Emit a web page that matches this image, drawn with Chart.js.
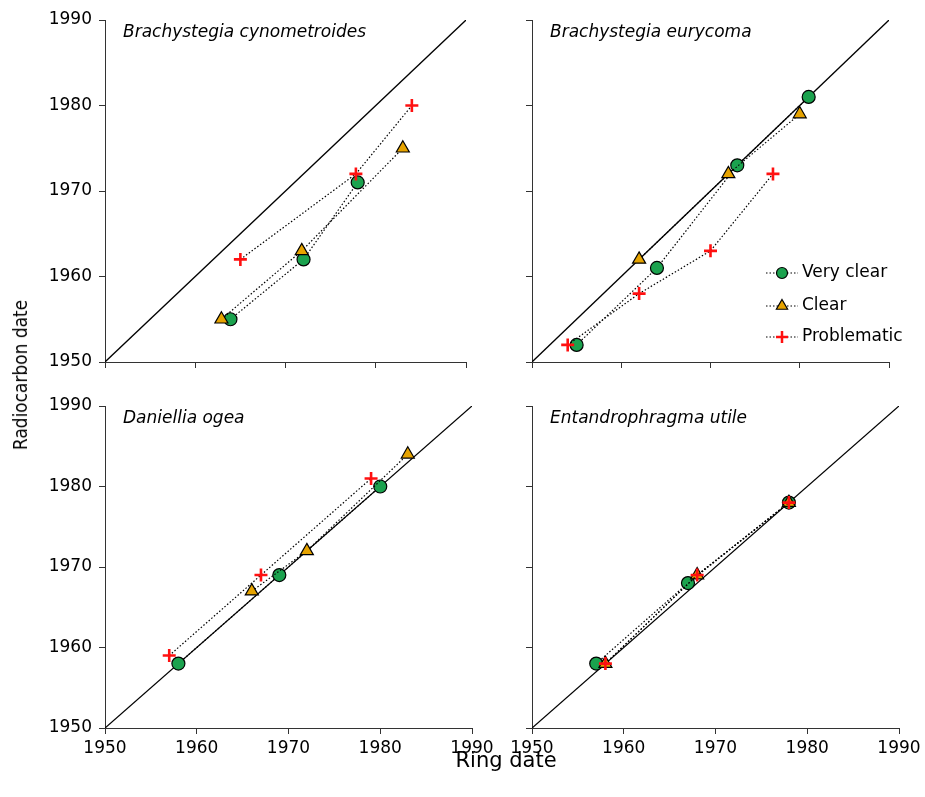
<!DOCTYPE html>
<html>
<head>
<meta charset="utf-8">
<script src="https://cdn.jsdelivr.net/npm/chart.js@4.4.0/dist/chart.umd.min.js"></script>
<style>
    body { margin: 0; background: #fff; }
    #quadro { position: relative; width: 925px; height: 797px; overflow: hidden; }
    canvas { position: absolute; }
    .tituloY { position: absolute; left: 20px; top: 375px; font: 20px 'DejaVu Sans'; white-space: nowrap;
        transform: translate(-50%, -50%) rotate(-90deg) scaleX(0.85); }
    .tituloX { position: absolute; left: 506px; top: 760px; font: 21px 'DejaVu Sans'; white-space: nowrap;
        transform: translate(-50%, -50%); }
</style>
</head>
<body>
<div id="quadro">
    <canvas id="painel1" width="500" height="385" style="left:0px; top:0px"></canvas>
    <canvas id="painel2" width="445" height="385" style="left:480px; top:0px"></canvas>
    <canvas id="painel3" width="500" height="412" style="left:0px; top:385px"></canvas>
    <canvas id="painel4" width="445" height="412" style="left:480px; top:385px"></canvas>
    <div class="tituloY">Radiocarbon date</div>
    <div class="tituloX">Ring date</div>
</div>
<script>
// dados: [ring date, radiocarbon date]
const nomesSeries = ['Very clear', 'Clear', 'Problematic'];
const nomesPaineis = ['Brachystegia cynometroides', 'Brachystegia eurycoma', 'Daniellia ogea', 'Entandrophragma utile'];
const ticksEixo = [1950, 1960, 1970, 1980, 1990];

const cynoMuitoClaro = [[1963.9, 1955], [1972, 1962], [1978, 1971]];
const cynoClaro = [[1962.9, 1955], [1971.8, 1963], [1983, 1975]];
const cynoProblema = [[1965, 1962], [1977.8, 1972], [1984, 1980]];

const euryMuitoClaro = [[1955, 1952], [1964, 1961], [1973, 1973], [1981, 1981]];
const euryClaro = [[1962, 1962], [1972, 1972], [1980, 1979]];
const euryProblema = [[1954, 1952], [1962, 1958], [1970, 1963], [1977, 1972]];

const daniMuitoClaro = [[1958, 1958], [1969, 1969], [1980, 1980]];
const daniClaro = [[1966, 1967], [1972, 1972], [1983, 1984]];
const daniProblema = [[1957, 1959], [1967, 1969], [1979, 1981]];

const entaMuitoClaro = [[1957, 1958], [1967, 1968], [1978, 1978]];
const entaClaro = [[1958, 1958], [1968, 1969], [1978, 1978]];
const entaProblema = [[1958, 1958], [1968, 1969], [1978, 1978]];

const corVerde = '#1ba24e';
const corLaranja = '#e6a300';
const corVermelho = '#ff1010';
const fonte = 'DejaVu Sans';

function serie(nome, pontos, estilo, cor, raio, ordem) {
    return {
        label: nome,
        data: pontos.map(p => ({ x: p[0], y: p[1] })),
        showLine: true,
        borderColor: '#000',
        borderWidth: 1.2,
        borderDash: [1.5, 2],
        pointStyle: estilo,
        pointRadius: raio,
        pointHoverRadius: raio,
        pointBackgroundColor: cor,
        pointBorderColor: estilo == 'cross' ? cor : '#000',
        pointBorderWidth: estilo == 'cross' ? 2.6 : 1.2,
        order: ordem
    };
}

// titulo da especie dentro da area do grafico
const pluginTitulo = {
    id: 'tituloEspecie',
    afterDraw(chart, args, opts) {
        const ctx = chart.ctx;
        const area = chart.chartArea;
        ctx.save();
        ctx.font = `italic 17px "${fonte}"`;
        ctx.fillStyle = '#000';
        ctx.textBaseline = 'middle';
        ctx.fillText(opts.texto, area.left + 18, area.top + 13);
        ctx.restore();
    }
};

// legenda desenhada à mão (painel 2)
const pluginLegenda = {
    id: 'legendaManual',
    afterDraw(chart, args, opts) {
        if (!opts.mostrar) return;
        const ctx = chart.ctx;
        const estilos = [
            { estilo: 'circle', cor: corVerde, raio: 5.5, borda: '#000', larg: 1.2 },
            { estilo: 'triangle', cor: corLaranja, raio: 6.5, borda: '#000', larg: 1.2 },
            { estilo: 'cross', cor: corVermelho, raio: 6, borda: corVermelho, larg: 2.5 }
        ];
        const ys = [273, 306, 337];
        ctx.save();
        for (let i = 0; i < nomesSeries.length; i++) {
            const y = ys[i];
            ctx.strokeStyle = '#000';
            ctx.lineWidth = 1.2;
            ctx.setLineDash([1.5, 2]);
            ctx.beginPath();
            ctx.moveTo(286, y);
            ctx.lineTo(318, y);
            ctx.stroke();
            ctx.setLineDash([]);
            const e = estilos[i];
            ctx.fillStyle = e.cor;
            ctx.strokeStyle = e.borda;
            ctx.lineWidth = e.larg;
            Chart.helpers.drawPoint(ctx, { pointStyle: e.estilo, radius: e.raio, rotation: 0, borderWidth: e.larg }, 302, y);
            ctx.fillStyle = '#000';
            ctx.font = `17px "${fonte}"`;
            ctx.textBaseline = 'middle';
            ctx.fillText(nomesSeries[i], 322, y);
        }
        ctx.restore();
    }
};

function criarPainel(idCanvas, nome, muitoClaro, claro, problema, cfg) {
    const diagonal = {
        data: [{ x: ticksEixo[0], y: ticksEixo[0] }, { x: ticksEixo[4], y: ticksEixo[4] }],
        showLine: true,
        borderColor: '#000',
        borderWidth: 1.3,
        pointRadius: 0,
        order: 5
    };

    const config = {
        type: 'scatter',
        data: {
            datasets: [
                serie(nomesSeries[2], problema, 'cross', corVermelho, 6.5, 0),
                serie(nomesSeries[1], claro, 'triangle', corLaranja, 7.5, 1),
                serie(nomesSeries[0], muitoClaro, 'circle', corVerde, 6.5, 2),
                diagonal
            ]
        },
        options: {
            responsive: false,
            animation: false,
            events: [],
            layout: { padding: cfg.padding },
            plugins: {
                legend: { display: false },
                tooltip: { enabled: false },
                tituloEspecie: { texto: nome },
                legendaManual: { mostrar: cfg.legenda }
            },
            scales: {
                x: {
                    type: 'linear',
                    min: ticksEixo[0],
                    max: ticksEixo[ticksEixo.length - 1],
                    afterBuildTicks: (s) => { s.ticks = ticksEixo.map(v => ({ value: v })); },
                    afterFit: (s) => { s.height = cfg.alturaX; },
                    ticks: {
                        display: cfg.rotulosX,
                        color: '#000',
                        font: { family: fonte, size: 17 },
                        padding: 4,
                        maxRotation: 0,
                        callback: (v) => String(v)
                    },
                    grid: { drawOnChartArea: false, drawTicks: true, tickLength: 6, color: '#333' },
                    border: { color: '#333', width: 1 }
                },
                y: {
                    type: 'linear',
                    min: ticksEixo[0],
                    max: ticksEixo[ticksEixo.length - 1],
                    afterBuildTicks: (s) => { s.ticks = ticksEixo.map(v => ({ value: v })); },
                    afterFit: (s) => { s.width = cfg.larguraY; },
                    ticks: {
                        display: cfg.rotulosY,
                        color: '#000',
                        font: { family: fonte, size: 17 },
                        padding: 7,
                        callback: (v) => String(v)
                    },
                    grid: { drawOnChartArea: false, drawTicks: true, tickLength: 6, color: '#333' },
                    border: { color: '#333', width: 1 }
                }
            }
        },
        plugins: [pluginTitulo, pluginLegenda]
    };

    return new Chart(document.getElementById(idCanvas), config);
}

criarPainel('painel1', nomesPaineis[0], cynoMuitoClaro, cynoClaro, cynoProblema,
    { padding: { left: 0, top: 20, right: 34, bottom: 0 }, larguraY: 105, alturaX: 23, rotulosX: false, rotulosY: true, legenda: false });
criarPainel('painel2', nomesPaineis[1], euryMuitoClaro, euryClaro, euryProblema,
    { padding: { left: 0, top: 20, right: 36, bottom: 0 }, larguraY: 52, alturaX: 23, rotulosX: false, rotulosY: false, legenda: true });
criarPainel('painel3', nomesPaineis[2], daniMuitoClaro, daniClaro, daniProblema,
    { padding: { left: 0, top: 21, right: 28, bottom: 0 }, larguraY: 105, alturaX: 69, rotulosX: true, rotulosY: true, legenda: false });
criarPainel('painel4', nomesPaineis[3], entaMuitoClaro, entaClaro, entaProblema,
    { padding: { left: 0, top: 21, right: 26, bottom: 0 }, larguraY: 52, alturaX: 69, rotulosX: true, rotulosY: false, legenda: false });
</script>
</body>
</html>
